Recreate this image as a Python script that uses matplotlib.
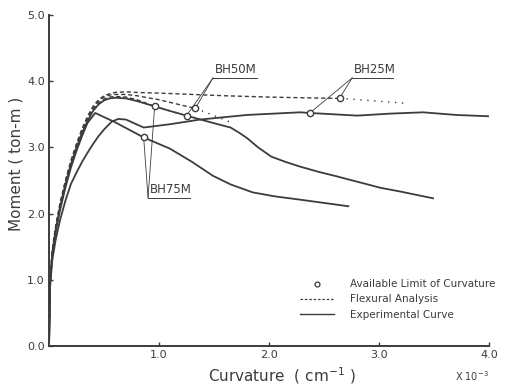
import matplotlib

matplotlib.use("Agg")
import matplotlib.pyplot as plt
from matplotlib.lines import Line2D

# Moment-curvature curves (curvature x 10^-3, moment ton-m)
bh25_ana_x = [0, 0.01, 0.03, 0.06, 0.1, 0.15, 0.2, 0.25, 0.3, 0.35, 0.4, 0.45, 0.5,
              0.55, 0.6, 0.7, 0.8, 1.0, 1.3, 1.6, 2.0, 2.3, 2.64]
bh25_ana_y = [0, 1.0, 1.45, 1.8, 2.15, 2.5, 2.8, 3.05, 3.28, 3.47, 3.62, 3.72, 3.78,
              3.81, 3.83, 3.84, 3.83, 3.82, 3.8, 3.78, 3.76, 3.75, 3.74]
bh25_ext_x = [2.64, 2.9, 3.22]
bh25_ext_y = [3.74, 3.71, 3.67]

bh50_ana_x = [0, 0.01, 0.03, 0.06, 0.1, 0.15, 0.2, 0.25, 0.3, 0.35, 0.4, 0.45, 0.5,
              0.55, 0.6, 0.7, 0.8, 0.9, 1.0, 1.1, 1.2, 1.33]
bh50_ana_y = [0, 1.0, 1.45, 1.8, 2.15, 2.5, 2.8, 3.05, 3.27, 3.45, 3.6, 3.7, 3.76,
              3.79, 3.8, 3.8, 3.78, 3.75, 3.72, 3.68, 3.64, 3.59]
bh50_ext_x = [1.33, 1.5, 1.65]
bh50_ext_y = [3.59, 3.48, 3.38]

bh75_ana_x = [0, 0.01, 0.03, 0.06, 0.1, 0.15, 0.2, 0.25, 0.3, 0.35, 0.4, 0.45, 0.5,
              0.55, 0.6, 0.7, 0.8, 0.96]
bh75_ana_y = [0, 0.98, 1.43, 1.77, 2.12, 2.47, 2.77, 3.02, 3.24, 3.42, 3.57, 3.67, 3.73,
              3.76, 3.77, 3.76, 3.72, 3.62]
bh75_ext_x = [0.96, 1.08, 1.2]
bh75_ext_y = [3.62, 3.56, 3.5]

bh50_exp_x = [0, 0.01, 0.03, 0.06, 0.1, 0.15, 0.2, 0.25, 0.3, 0.35, 0.4, 0.45, 0.5,
              0.55, 0.6, 0.7, 0.8, 0.96, 1.1, 1.25, 1.4, 1.58, 1.65, 1.72, 1.8, 1.9,
              2.02, 2.15, 2.28, 2.45, 2.62, 2.71, 2.85, 3.01, 3.2, 3.49]
bh50_exp_y = [0, 0.95, 1.4, 1.75, 2.1, 2.45, 2.75, 3.0, 3.22, 3.4, 3.55, 3.65, 3.71,
              3.74, 3.75, 3.74, 3.7, 3.62, 3.55, 3.48, 3.41, 3.33, 3.3, 3.23, 3.14, 3.0,
              2.86, 2.78, 2.71, 2.63, 2.56, 2.52, 2.46, 2.39, 2.33, 2.23]

bh75_exp_x = [0, 0.01, 0.03, 0.06, 0.1, 0.15, 0.2, 0.25, 0.3, 0.35, 0.42, 0.6, 0.86,
              1.1, 1.3, 1.49, 1.65, 1.85, 2.05, 2.28, 2.5, 2.72]
bh75_exp_y = [0, 0.95, 1.4, 1.72, 2.05, 2.4, 2.7, 2.95, 3.17, 3.37, 3.52, 3.38, 3.15,
              2.98, 2.78, 2.57, 2.44, 2.32, 2.26, 2.21, 2.16, 2.11]

bh25_exp_x = [0, 0.01, 0.03, 0.06, 0.1, 0.15, 0.2, 0.25, 0.3, 0.35, 0.4, 0.45, 0.5,
              0.57, 0.63, 0.7, 0.86, 1.1, 1.37, 1.8, 2.28, 2.37, 2.8, 3.1, 3.4, 3.7, 4.0]
bh25_exp_y = [0, 0.9, 1.3, 1.6, 1.9, 2.2, 2.45, 2.62, 2.78, 2.92, 3.05, 3.17, 3.27,
              3.39, 3.43, 3.42, 3.3, 3.35, 3.42, 3.49, 3.53, 3.52, 3.48, 3.51, 3.53,
              3.49, 3.47]

# available limit of curvature (circles) and their labels
limits = {
    "BH50M": [(1.25, 3.48), (1.33, 3.59)],
    "BH25M": [(2.37, 3.52), (2.64, 3.74)],
    "BH75M": [(0.86, 3.15), (0.96, 3.62)],
}
label_anchor = {"BH50M": (1.49, 4.05), "BH25M": (2.755, 4.05), "BH75M": (0.90, 2.24)}
label_width = {"BH50M": 0.40, "BH25M": 0.37, "BH75M": 0.38}

x_ticks = [1.0, 2.0, 3.0, 4.0]
y_ticks = [0.0, 1.0, 2.0, 3.0, 4.0, 5.0]

ink = "#3c3c3c"
fig = plt.figure(figsize=(5.16, 3.86), dpi=100)
ax = fig.add_axes([0.095, 0.104, 0.853, 0.857])

for xs, ys in [(bh25_ana_x, bh25_ana_y), (bh50_ana_x, bh50_ana_y), (bh75_ana_x, bh75_ana_y)]:
    ax.plot(xs, ys, color=ink, lw=1.0, ls=(0, (3, 2)))
for xs, ys in [(bh25_ext_x, bh25_ext_y), (bh50_ext_x, bh50_ext_y), (bh75_ext_x, bh75_ext_y)]:
    ax.plot(xs, ys, color=ink, lw=1.0, ls=(0, (1, 4)))
for xs, ys in [(bh50_exp_x, bh50_exp_y), (bh75_exp_x, bh75_exp_y), (bh25_exp_x, bh25_exp_y)]:
    ax.plot(xs, ys, color=ink, lw=1.3)

for name, pts in limits.items():
    ax0, ay0 = label_anchor[name]
    for px, py in pts:
        ax.plot([ax0, px], [ay0, py], color=ink, lw=0.6)
        ax.plot(px, py, "o", ms=4.5, mfc="white", mec=ink, mew=1.0)
    ax.plot([ax0, ax0 + label_width[name]], [ay0, ay0], color=ink, lw=0.7)
    ax.text(ax0 + 0.02, ay0 + 0.03, name, fontsize=8.5, color=ink, ha="left", va="bottom")

ax.set_xlim(0, 4.0)
ax.set_ylim(0, 5.0)
ax.set_xticks(x_ticks)
ax.set_xticklabels([f"{t:.1f}" for t in x_ticks])
ax.set_yticks(y_ticks)
ax.set_yticklabels([f"{t:.1f}" for t in y_ticks])
ax.tick_params(direction="in", length=3, width=1, colors=ink, labelsize=8, pad=3)
for side in ["top", "right"]:
    ax.spines[side].set_visible(False)
for side in ["left", "bottom"]:
    ax.spines[side].set_linewidth(1.4)
    ax.spines[side].set_color(ink)

ax.set_ylabel("Moment ( ton-m )", fontsize=11, color=ink)
ax.yaxis.set_label_coords(-0.058, 0.55)
ax.set_xlabel("Curvature  ( cm$^{-1}$ )", fontsize=11, color=ink)
ax.xaxis.set_label_coords(0.53, -0.06)
ax.text(1.0, -0.07, "X 10$^{-3}$", transform=ax.transAxes, fontsize=7, color=ink,
        ha="right", va="top")

handles = [
    Line2D([], [], ls="none", marker="o", ms=3.5, mfc="white", mec=ink, mew=0.9),
    Line2D([], [], color=ink, lw=0.9, ls=(0, (2, 1.5))),
    Line2D([], [], color=ink, lw=1.0),
]
ax.legend(handles, ["Available Limit of Curvature", "Flexural Analysis", "Experimental Curve"],
          loc="upper left", bbox_to_anchor=(0.55, 0.23), frameon=False, fontsize=7.5,
          handlelength=3.2, handletextpad=1.6, labelspacing=0.5, labelcolor=ink)

fig.savefig("out.png", dpi=100)
